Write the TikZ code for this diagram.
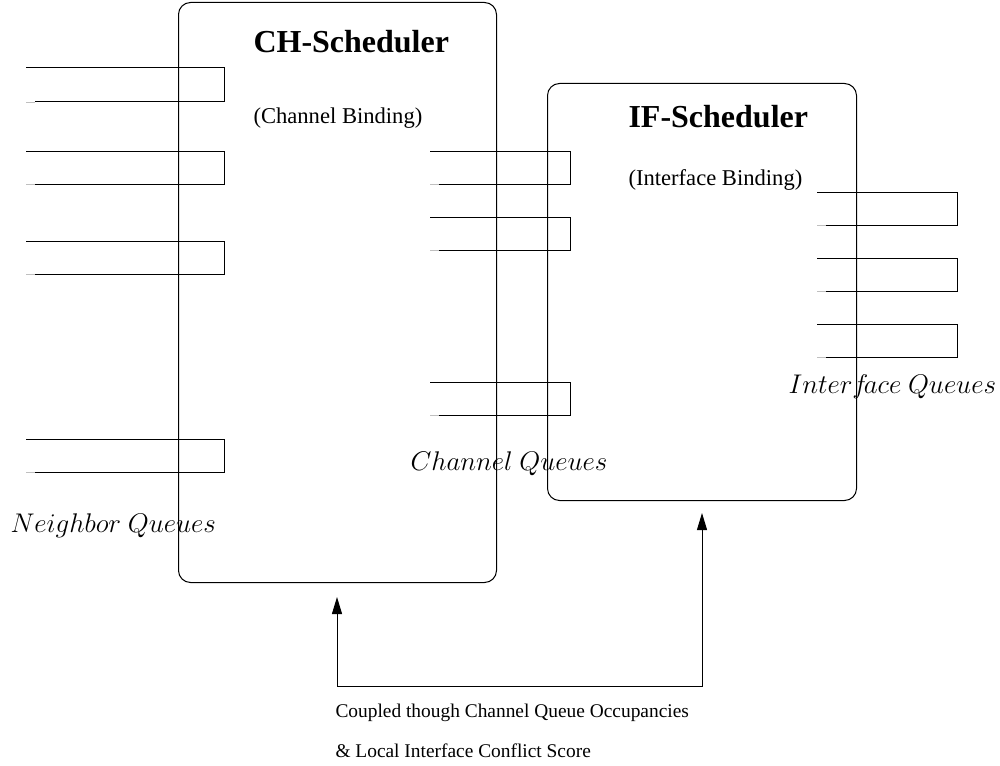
\RequirePackage{fix-cm}
\documentclass[tikz,border=0pt]{standalone}
\usepackage{fontspec}
\setmainfont{Liberation Serif}
\usetikzlibrary{arrows.meta}
\begin{document}
\begin{tikzpicture}[x=1pt,y=-1pt,line width=1pt,
  schedbox/.style={draw,rounded corners=12pt,inner sep=0pt,anchor=north west},
  stub/.style={draw=black!25,line width=0.8pt},
  title/.style={anchor=base west,inner sep=0pt,font=\fontsize{32}{36}\selectfont\bfseries},
  subtitle/.style={anchor=base west,inner sep=0pt,font=\fontsize{22.6}{26}\selectfont},
  qlabel/.style={anchor=base west,inner sep=0pt,font=\fontsize{27}{30}\selectfont},
  note/.style={anchor=base west,inner sep=0pt,font=\fontsize{19.4}{22}\selectfont},
  tip/.style={{Triangle[length=17pt,width=10pt]}-{Triangle[length=17pt,width=10pt]}}
]
\useasboundingbox (0,0) rectangle (1000,765);
\node[schedbox,minimum width=318pt,minimum height=580pt] (ch) at (178,2) {};
\node[schedbox,minimum width=309pt,minimum height=417pt] (if) at (547,83) {};

\node[title] (cht) at (253,53) {CH-Scheduler};
\node[subtitle] (chs) at (253,123) {(Channel Binding)};
\node[title] (ift) at (628,128) {IF-Scheduler};
\node[subtitle] (ifs) at (628,185) {(Interface Binding)};

\newcommand{\queue}[4]{% x0, xr, ytop, ybot
  \draw (#1,#3) -- (#2,#3) -- (#2,#4) -- (#1+9,#4);
  \draw[stub] (#1,#4) -- (#1+9,#4);
}
% neighbor queues
\queue{26}{224}{68}{102}
\queue{26}{224}{151}{184}
\queue{26}{224}{241}{274}
\queue{26}{224}{439}{472}
% channel queues
\queue{430}{570}{151}{184}
\queue{430}{570}{217}{250}
\queue{430}{570}{382}{415}
% interface queues
\queue{817}{957}{192}{225}
\queue{817}{957}{258}{291}
\queue{817}{957}{324}{357}

\node[qlabel] (nq) at (10,532) {$Neighbor\ Queues$};
\node[qlabel] (cq) at (410,470) {$Channel\ Queues$};
\node[qlabel] (iq) at (788,393) {$Interf\!ace\ Queues$};

\coordinate (t1) at (337,597);
\coordinate (b1) at (337,686);
\coordinate (b2) at (702,686);
\coordinate (t2) at (702,513);
\draw[tip] (t1) -- (b1) -- (b2) -- (t2);

\node[note] (n1) at (335,717) {Coupled though Channel Queue Occupancies};
\node[note] (n2) at (335,757) {\& Local Interface Conflict Score};
\end{tikzpicture}
\end{document}
